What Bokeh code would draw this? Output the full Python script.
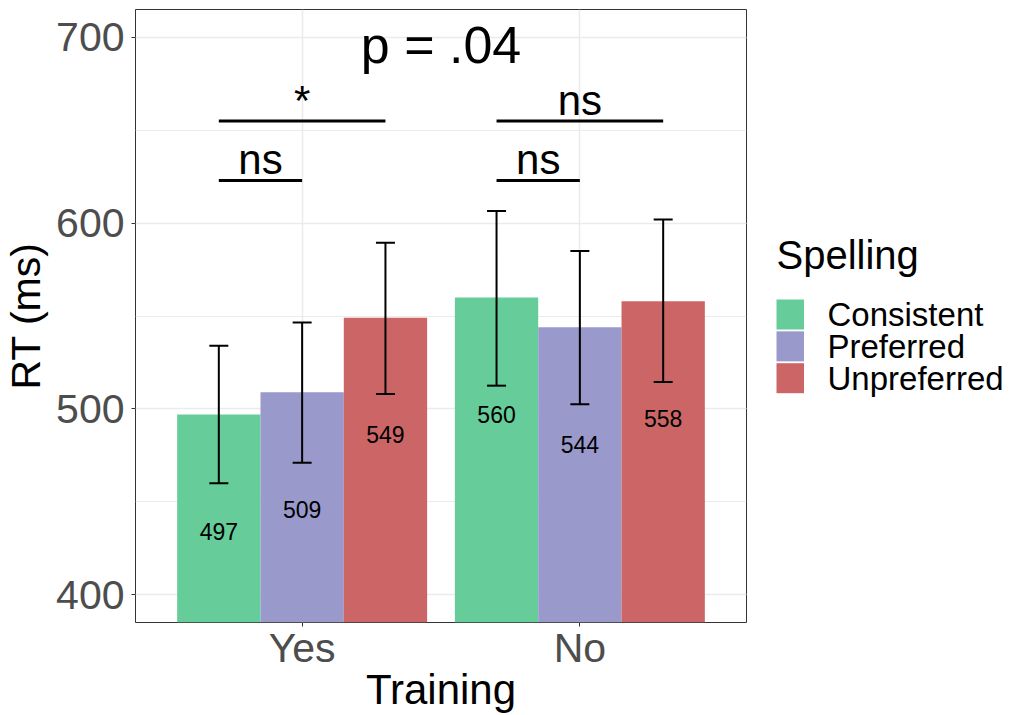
from bokeh.plotting import figure
from bokeh.layouts import row
from bokeh.models import (ColumnDataSource, FactorRange, Range1d, Whisker, TeeHead,
                          SingleIntervalTicker)
from bokeh.transform import dodge
from bokeh.core.properties import value
from bokeh.embed import file_html
from bokeh.resources import INLINE

# --- data -------------------------------------------------------------
training = ["Yes", "No"]
spelling = ["Consistent", "Preferred", "Unpreferred"]
colors = ["#66CC99", "#9999CC", "#CC6666"]

# mean RT (ms) per spelling, in training order (Yes, No)
rt_consistent = [497, 560]
rt_preferred = [509, 544]
rt_unpreferred = [549, 558]

# error-bar limits (ms), same order
lower_consistent = [460, 512.5]
upper_consistent = [534, 606.5]
lower_preferred = [471, 502.5]
upper_preferred = [546.5, 585]
lower_unpreferred = [508, 514.5]
upper_unpreferred = [589.5, 602]

# pairwise comparisons within each training group
cmp_group = ["Yes", "Yes", "No", "No"]
cmp_from = ["Consistent", "Consistent", "Consistent", "Consistent"]
cmp_to = ["Preferred", "Unpreferred", "Preferred", "Unpreferred"]
cmp_y = [623, 655, 623, 655]
cmp_label = ["ns", "*", "ns", "ns"]

interaction_label = "p = .04"
legend_title = "Spelling"

# --- layout constants ---------------------------------------------------
FONT = "Liberation Sans"
BAR_W = 0.3
offsets = {"Consistent": -BAR_W, "Preferred": 0.0, "Unpreferred": BAR_W}
LABEL_DROP = 63       # value labels sit this far below the bar top
SIG_TEXT_GAP = 11     # bracket label centre above its line

PLOT_W, PLOT_H = 747, 715
BORDER_TOP, BORDER_BOTTOM = 9, 93

p = figure(
    width=PLOT_W, height=PLOT_H,
    x_range=FactorRange(*training, range_padding=0.1, range_padding_units="absolute"),
    y_range=Range1d(385, 715),
    output_backend="svg", toolbar_location=None,
    min_border_left=135, min_border_right=1,
    min_border_top=BORDER_TOP, min_border_bottom=BORDER_BOTTOM,
)
p.background_fill_color = "white"
p.border_fill_color = "white"
p.outline_line_color = "#333333"
p.outline_line_width = 1

means = [rt_consistent, rt_preferred, rt_unpreferred]
lows = [lower_consistent, lower_preferred, lower_unpreferred]
highs = [upper_consistent, upper_preferred, upper_unpreferred]

for s, col, m, lo, hi in zip(spelling, colors, means, lows, highs):
    src = ColumnDataSource(dict(
        training=training, rt=m, lower=lo, upper=hi,
        label=[str(v) for v in m],
        label_y=[v - LABEL_DROP for v in m],
    ))
    xs = dodge("training", offsets[s], range=p.x_range)
    p.vbar(x=xs, top="rt", bottom=0, width=BAR_W, source=src,
           fill_color=col, line_color=None)

    w = Whisker(source=src, base=xs, upper="upper", lower="lower",
                line_color="black", line_width=2, level="overlay",
                upper_head=TeeHead(size=19, line_color="black", line_width=2),
                lower_head=TeeHead(size=19, line_color="black", line_width=2))
    p.add_layout(w)

    p.text(x=xs, y="label_y", text="label", source=src,
           text_align="center", text_baseline="middle",
           text_font=value(FONT), text_font_size="23px", text_color="black")

# significance brackets, positioned in the factor range's synthetic coordinates
def syn(group, sp):
    return training.index(group) + 0.5 + offsets[sp]

x0 = [syn(g, a) for g, a in zip(cmp_group, cmp_from)]
x1 = [syn(g, b) for g, b in zip(cmp_group, cmp_to)]
sig = ColumnDataSource(dict(
    x0=x0, x1=x1, y=cmp_y, label=cmp_label,
    xm=[(a + b) / 2 for a, b in zip(x0, x1)],
    ty=[v + SIG_TEXT_GAP for v in cmp_y],
))
p.segment(x0="x0", y0="y", x1="x1", y1="y", source=sig,
          line_color="black", line_width=3)
p.text(x="xm", y="ty", text="label", source=sig,
       text_align="center", text_baseline="middle",
       text_font=value(FONT), text_font_size="42px", text_color="black")

# interaction p-value between the two training groups
p.text(x=[1.0], y=[696], text=[interaction_label],
       text_align="center", text_baseline="middle",
       text_font=value(FONT), text_font_size="52px", text_color="black")

# axes
p.yaxis.ticker = SingleIntervalTicker(interval=100, num_minor_ticks=2)
for ax in (p.xaxis, p.yaxis):
    ax.axis_line_color = None
    ax.major_tick_line_color = "#333333"
    ax.major_tick_line_width = 1
    ax.major_tick_out = 4
    ax.major_tick_in = 0
    ax.minor_tick_line_color = None
    ax.major_label_text_font = FONT
    ax.major_label_text_font_size = "41px"
    ax.major_label_text_color = "#4D4D4D"
    ax.axis_label_text_font = FONT
    ax.axis_label_text_font_size = "41px"
    ax.axis_label_text_font_style = "normal"
    ax.axis_label_text_color = "black"

p.yaxis.axis_label = "RT (ms)"
p.yaxis.major_label_standoff = 7
p.yaxis.axis_label_standoff = 4
p.xaxis.axis_label = "Training"
p.xaxis.axis_label_text_font_size = "42px"
p.xaxis.major_label_standoff = -2
p.xaxis.axis_label_standoff = -8

p.xgrid.grid_line_color = "#EBEBEB"
p.xgrid.grid_line_width = 1.5
p.ygrid.grid_line_color = "#EBEBEB"
p.ygrid.grid_line_width = 1.5
p.ygrid.minor_grid_line_color = "#EBEBEB"
p.ygrid.minor_grid_line_width = 1

# --- legend panel to the right of the plot ------------------------------
# Its frame is aligned with the main frame by the row layout, so the ranges
# below map one data unit to one page pixel (y increasing downwards).
LP_X0, LP_W = PLOT_W, 1009 - PLOT_W
KEY_X0, KEY_W = 776, 27.5
KEY_TOP, KEY_H, KEY_STEP = 299, 30, 31.85
LABEL_X = 827
TITLE_X, TITLE_Y = 776, 254

lp = figure(width=LP_W, height=PLOT_H, output_backend="svg", toolbar_location=None,
            x_range=Range1d(LP_X0, LP_X0 + LP_W),
            y_range=Range1d(PLOT_H - BORDER_BOTTOM, BORDER_TOP),
            x_axis_location=None, y_axis_location=None,
            min_border_left=0, min_border_right=0,
            min_border_top=BORDER_TOP, min_border_bottom=BORDER_BOTTOM,
            outline_line_color=None)
lp.grid.visible = False
lp.border_fill_color = "white"
lp.background_fill_color = "white"

tops = [KEY_TOP + i * KEY_STEP for i in range(len(spelling))]
keys = ColumnDataSource(dict(
    left=[KEY_X0] * len(spelling), right=[KEY_X0 + KEY_W] * len(spelling),
    top=tops, bottom=[t + KEY_H for t in tops],
    color=colors, label=spelling,
    lx=[LABEL_X] * len(spelling), ly=[t + KEY_H / 2 + 0.3 for t in tops],
))
lp.quad(left="left", right="right", top="top", bottom="bottom", source=keys,
        fill_color="color", line_color=None)
lp.text(x="lx", y="ly", text="label", source=keys,
        text_align="left", text_baseline="middle",
        text_font=value(FONT), text_font_size="33px", text_color="black")
lp.text(x=[TITLE_X], y=[TITLE_Y], text=[legend_title],
        text_align="left", text_baseline="middle",
        text_font=value(FONT), text_font_size="40px", text_color="black")

open("out.html", "w").write(file_html(row(p, lp), INLINE))
